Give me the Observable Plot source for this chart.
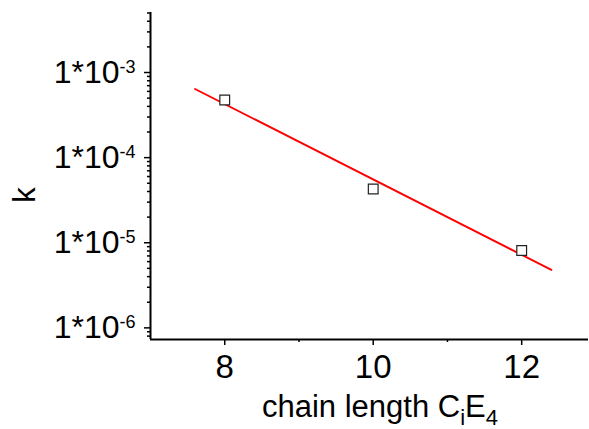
<!DOCTYPE html>
<html>
<head>
<meta charset="utf-8">
<script src="https://cdn.jsdelivr.net/npm/d3@7"></script>
<script src="https://cdn.jsdelivr.net/npm/@observablehq/plot@0.6"></script>
<style>
  html, body { margin: 0; padding: 0; background: #fff; }
  svg { display: block; }
</style>
</head>
<body>
<div id="chart"></div>
<script>
// Rate constant k for C_iE_4 surfactants versus alkyl chain length
const chainLength = [8, 10, 12];
const rateK = [4.75e-4, 4.28e-5, 8.1e-6];

// Exponential fit, a straight line on the log axis
const fitChain = [7.6, 12.4];
const fitK = [6.4e-4, 4.8e-6];

// Axis ticks
const xMajorTicks = [8, 10, 12];
const xMinorTicks = [9, 11];
const yMajorTicks = [1e-6, 1e-5, 1e-4, 1e-3];
const yTickExponents = ["-6", "-5", "-4", "-3"];

const xDomain = [7, 12.9];
const yDomain = [7.3e-7, 5.07e-3];

// minor log ticks 2..9 in every decade inside the domain
const yMinorTicks = [];
for (let e = -7; e <= -3; e++) {
  for (let m = 2; m <= 9; m++) {
    const v = m * Math.pow(10, e);
    if (v >= yDomain[0] && v <= yDomain[1]) yMinorTicks.push(v);
  }
}

const font = "'Liberation Sans', Arial, Helvetica, sans-serif";

const points = chainLength.map((c, i) => ({c, k: rateK[i]}));
const fit = fitChain.map((c, i) => ({c, k: fitK[i]}));

const chart = Plot.plot({
  width: 589,
  height: 429,
  marginLeft: 150,
  marginRight: 1,
  marginTop: 12,
  marginBottom: 90,
  style: {fontFamily: font, fontSize: "32px", background: "#fff", color: "#000", overflow: "visible"},
  x: {domain: xDomain},
  y: {type: "log", domain: yDomain},
  marks: [
    Plot.axisX(xMinorTicks, {tickSize: 3, strokeWidth: 1.5, tickFormat: () => "", label: null}),
    Plot.axisX(xMajorTicks, {tickSize: 6, strokeWidth: 1.5, tickPadding: 9, tickFormat: d => String(d), label: null}),
    Plot.axisY(yMinorTicks, {tickSize: 3, strokeWidth: 1.5, tickFormat: () => "", label: null}),
    Plot.axisY(yMajorTicks, {
      tickSize: 6, strokeWidth: 1.5, tickPadding: 9, label: null,
      tickFormat: d => "1*10^" + yTickExponents[yMajorTicks.indexOf(d)]
    }),
    Plot.ruleX([xDomain[0]], {stroke: "#000", strokeWidth: 2}),
    Plot.ruleY([yDomain[0]], {stroke: "#000", strokeWidth: 2}),
    Plot.line(fit, {x: "c", y: "k", stroke: "#ff0000", strokeWidth: 1.9}),
    Plot.dot(points, {x: "c", y: "k", symbol: "square", r: 5.5, stroke: "#222", strokeWidth: 1.2, fill: "#fff"})
  ]
});

document.getElementById("chart").append(chart);

const svg = d3.select(chart);

// x tick labels
svg.selectAll("g[aria-label='x-axis tick label'] text").style("font-size", "33px");

// turn "1*10^e" into a base with a superscript exponent
svg.selectAll("text").each(function () {
  const m = this.textContent.match(/^1\*10\^(.+)$/);
  if (!m) return;
  const t = d3.select(this);
  t.style("font-size", "32px").text("1*10");
  t.append("tspan").attr("dy", -10).style("font-size", "18px").text(m[1]);
});

// x axis title with subscripts
const xt = svg.append("text")
  .attr("x", 262).attr("y", 417)
  .attr("text-anchor", "start")
  .attr("font-family", font).style("font-size", "31px").attr("fill", "#000");
xt.append("tspan").text("chain length C");
xt.append("tspan").attr("dy", 8).style("font-size", "22px").text("i");
xt.append("tspan").attr("dy", -8).text("E");
xt.append("tspan").attr("dy", 8).style("font-size", "22px").text("4");

// y axis title
svg.append("text")
  .attr("transform", "translate(35,195) rotate(-90)")
  .attr("text-anchor", "middle")
  .attr("font-family", font).style("font-size", "31px").attr("fill", "#000")
  .text("k");
</script>
</body>
</html>
